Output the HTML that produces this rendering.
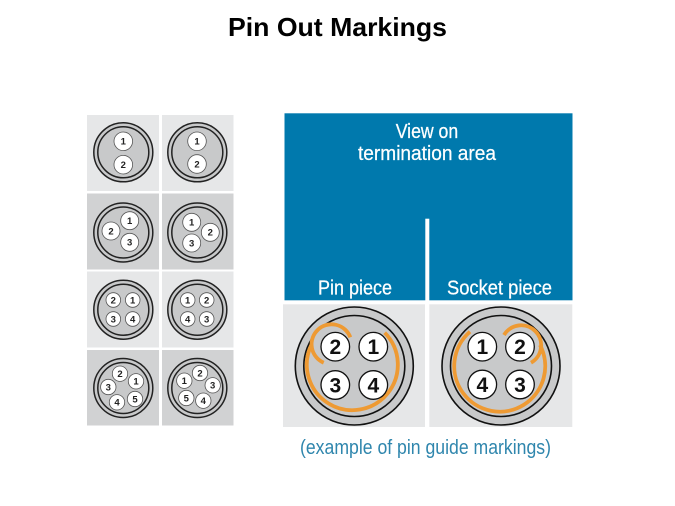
<!DOCTYPE html>
<html><head><meta charset="utf-8"><style>
html,body{margin:0;padding:0;background:#fff}
svg{display:block}
text{font-family:"Liberation Sans",sans-serif}
.r{fill:#fff;stroke:#555;stroke-width:.8}
.d{font-weight:bold;font-size:9.5px;fill:#222;text-anchor:middle}
.D{font-weight:bold;font-size:21px;fill:#111;text-anchor:middle}
.R{fill:#fff;stroke:#111;stroke-width:1.3}
.w{fill:#fff;font-size:20px;stroke:#fff;stroke-width:.25}
</style></head><body>
<svg width="675" height="506" viewBox="0 0 675 506" xmlns="http://www.w3.org/2000/svg">
<rect width="675" height="506" fill="#fff"/>
<text x="228" y="36" font-size="26" font-weight="bold" fill="#000" textLength="219" lengthAdjust="spacingAndGlyphs">Pin Out Markings</text>

<g fill="#e6e7e8">
<rect x="87" y="115" width="72" height="76"/><rect x="162" y="115" width="71.500" height="76"/>
<rect x="87" y="271.500" width="72" height="76"/><rect x="162" y="271.500" width="71.500" height="76"/>
</g>
<g fill="#d1d2d3">
<rect x="87" y="193.500" width="72" height="76"/><rect x="162" y="193.500" width="71.500" height="76"/>
<rect x="87" y="350" width="72" height="75.500"/><rect x="162" y="350" width="71.500" height="75.500"/>
</g>

<g fill="#c8c9ca" stroke="#222" stroke-width="1.500">
<circle cx="123.300" cy="152.300" r="29.500"/><circle cx="123.300" cy="152.300" r="25.500"/>
<circle cx="197.300" cy="152.300" r="29.500"/><circle cx="197.300" cy="152.300" r="25.500"/>
<circle cx="123.300" cy="232.500" r="29.500"/><circle cx="123.300" cy="232.500" r="25.500"/>
<circle cx="197.300" cy="232.500" r="29.500"/><circle cx="197.300" cy="232.500" r="25.500"/>
<circle cx="123.300" cy="309.700" r="29.500"/><circle cx="123.300" cy="309.700" r="25.500"/>
<circle cx="197.300" cy="309.700" r="29.500"/><circle cx="197.300" cy="309.700" r="25.500"/>
<circle cx="123.300" cy="388" r="29.500"/><circle cx="123.300" cy="388" r="25.500"/>
<circle cx="197.300" cy="388" r="29.500"/><circle cx="197.300" cy="388" r="25.500"/>
</g>

<g class="pins">
<circle class="r" cx="123.300" cy="141.300" r="9.300"/><text class="d" x="123.300" y="144.700">1</text>
<circle class="r" cx="123.300" cy="164.700" r="9.300"/><text class="d" x="123.300" y="168.100">2</text>
<circle class="r" cx="197" cy="141.300" r="9.300"/><text class="d" x="197" y="144.700">1</text>
<circle class="r" cx="197" cy="164" r="9.300"/><text class="d" x="197" y="167.400">2</text>

<circle class="r" cx="129.700" cy="220.700" r="9"/><text class="d" x="129.700" y="224.100">1</text>
<circle class="r" cx="111" cy="231" r="9"/><text class="d" x="111" y="234.400">2</text>
<circle class="r" cx="129.700" cy="242.300" r="9"/><text class="d" x="129.700" y="245.700">3</text>
<circle class="r" cx="191.700" cy="222.300" r="9"/><text class="d" x="191.700" y="225.700">1</text>
<circle class="r" cx="210.300" cy="232.300" r="9"/><text class="d" x="210.300" y="235.700">2</text>
<circle class="r" cx="191.700" cy="243" r="9"/><text class="d" x="191.700" y="246.400">3</text>

<circle class="r" cx="113.300" cy="300" r="7.300"/><text class="d" x="113.300" y="303.400">2</text>
<circle class="r" cx="132.700" cy="300" r="7.300"/><text class="d" x="132.700" y="303.400">1</text>
<circle class="r" cx="113.300" cy="319" r="7.300"/><text class="d" x="113.300" y="322.400">3</text>
<circle class="r" cx="132.700" cy="319" r="7.300"/><text class="d" x="132.700" y="322.400">4</text>
<circle class="r" cx="187.700" cy="300" r="7.300"/><text class="d" x="187.700" y="303.400">1</text>
<circle class="r" cx="206.700" cy="300" r="7.300"/><text class="d" x="206.700" y="303.400">2</text>
<circle class="r" cx="187.700" cy="319" r="7.300"/><text class="d" x="187.700" y="322.400">4</text>
<circle class="r" cx="206.700" cy="319" r="7.300"/><text class="d" x="206.700" y="322.400">3</text>

<circle class="r" cx="120" cy="373.700" r="7.700"/><text class="d" x="120" y="377.100">2</text>
<circle class="r" cx="136" cy="381.300" r="7.700"/><text class="d" x="136" y="384.700">1</text>
<circle class="r" cx="108.300" cy="387" r="7.700"/><text class="d" x="108.300" y="390.400">3</text>
<circle class="r" cx="117" cy="402.300" r="7.700"/><text class="d" x="117" y="405.700">4</text>
<circle class="r" cx="135" cy="399" r="7.700"/><text class="d" x="135" y="402.400">5</text>
<circle class="r" cx="200" cy="373" r="7.700"/><text class="d" x="200" y="376.400">2</text>
<circle class="r" cx="184.300" cy="380.700" r="7.700"/><text class="d" x="184.300" y="384.100">1</text>
<circle class="r" cx="212.700" cy="385.300" r="7.700"/><text class="d" x="212.700" y="388.700">3</text>
<circle class="r" cx="186.300" cy="398" r="7.700"/><text class="d" x="186.300" y="401.400">5</text>
<circle class="r" cx="203.300" cy="400.700" r="7.700"/><text class="d" x="203.300" y="404.100">4</text>
</g>

<rect x="284.500" y="113.300" width="288" height="187" fill="#0079ad"/>
<rect x="425.300" y="218.700" width="4" height="86" fill="#fff"/>
<text class="w" x="395.700" y="138" textLength="62.500" lengthAdjust="spacingAndGlyphs">View on</text>
<text class="w" x="358" y="160" textLength="138" lengthAdjust="spacingAndGlyphs">termination area</text>
<text class="w" x="318" y="294.700" textLength="74" lengthAdjust="spacingAndGlyphs">Pin piece</text>
<text class="w" x="447" y="294.700" textLength="105" lengthAdjust="spacingAndGlyphs">Socket piece</text>

<rect x="283" y="304.300" width="142" height="122.700" fill="#e6e7e8"/>
<rect x="429.300" y="304.300" width="143" height="122.700" fill="#e6e7e8"/>

<g fill="#c8c9ca" stroke="#111" stroke-width="1.600">
<circle cx="354.300" cy="366" r="59"/><circle cx="354.300" cy="366" r="50.500"/>
<circle cx="501" cy="366" r="59"/><circle cx="501" cy="366" r="50.500"/>
</g>

<g fill="none" stroke="#ee9a33" stroke-width="3.800">
<path d="M384.700 332.700A45.500 45.500 0 1 1 311.300 345"/>
<path d="M323.700 362.700A20 20 0 1 1 350.300 337.300"/>
<path d="M470 331.700A45.500 45.500 0 1 0 540 345"/>
<path d="M504 335A20 20 0 1 1 531 362.700"/>
</g>

<circle class="R" cx="335.300" cy="346.700" r="14.300"/><text class="D" x="335.300" y="354.200">2</text>
<circle class="R" cx="373.300" cy="346.700" r="14.300"/><text class="D" x="373.300" y="354.200">1</text>
<circle class="R" cx="335.300" cy="385" r="14.300"/><text class="D" x="335.300" y="392.500">3</text>
<circle class="R" cx="373.300" cy="385" r="14.300"/><text class="D" x="373.300" y="392.500">4</text>
<circle class="R" cx="482.300" cy="346.700" r="14.300"/><text class="D" x="482.300" y="354.200">1</text>
<circle class="R" cx="520" cy="346.700" r="14.300"/><text class="D" x="520" y="354.200">2</text>
<circle class="R" cx="482.300" cy="384.500" r="14.300"/><text class="D" x="482.300" y="392">4</text>
<circle class="R" cx="520" cy="384.500" r="14.300"/><text class="D" x="520" y="392">3</text>

<text x="300" y="454" font-size="20" fill="#2f86ad" textLength="251" lengthAdjust="spacingAndGlyphs">(example of pin guide markings)</text>
</svg>
</body></html>
